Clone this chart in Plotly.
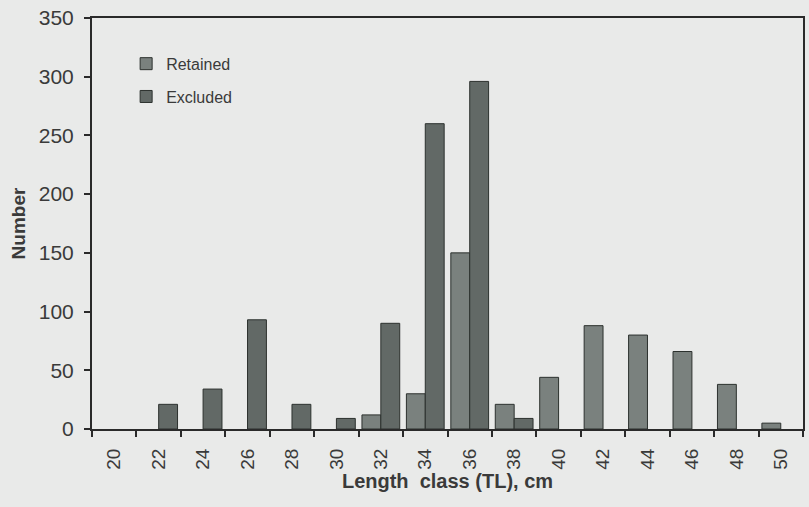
import plotly.graph_objects as go

categories = ["20", "22", "24", "26", "28", "30", "32", "34", "36", "38",
              "40", "42", "44", "46", "48", "50"]
retained = [None, None, None, None, None, None, 12, 30, 150, 21, 44, 88, 80, 66, 38, 5]
excluded = [None, 21, 34, 93, 21, 9, 90, 260, 296, 9, None, None, None, None, None, None]
y_ticks = [0, 50, 100, 150, 200, 250, 300, 350]

font_family = "Liberation Sans, Arial, sans-serif"
bg = "#e9eae9"
edge = "#2c312e"
txt = "#3a3a3a"

fig = go.Figure()
fig.add_trace(go.Bar(
    name="Retained", x=categories, y=retained, legendgroup="r",
    marker=dict(color="#7a817e", line=dict(color=edge, width=1)),
))
fig.add_trace(go.Bar(
    name="Excluded", x=categories, y=excluded, legendgroup="e",
    marker=dict(color="#626966", line=dict(color=edge, width=1)),
))

fig.update_layout(
    width=809, height=507, autosize=False,
    margin=dict(l=92, r=4, t=18, b=78),
    paper_bgcolor=bg, plot_bgcolor=bg,
    barmode="group", bargap=0.15, bargroupgap=0,
    font=dict(family=font_family, size=16, color=txt),
    showlegend=True,
    legend=dict(
        x=0.048, y=0.93, xanchor="left", yanchor="top",
        bgcolor="rgba(0,0,0,0)", font=dict(size=16, color=txt),
        itemwidth=30, tracegroupgap=9,
    ),
    xaxis=dict(
        type="category", tickson="boundaries", ticks="outside",
        ticklen=6, tickwidth=2, tickcolor="#2a2a2a",
        tickangle=-90, tickfont=dict(size=19, color=txt),
        ticklabelstandoff=10,
        showline=True, linecolor="#2a2a2a", linewidth=2, mirror=True,
        showgrid=False, zeroline=False,
        title=dict(text="<b>Length  class (TL), cm</b>",
                   font=dict(size=20, color=txt), standoff=5),
    ),
    yaxis=dict(
        range=[0, 350], tickvals=y_ticks, ticks="outside",
        ticklen=6, tickwidth=2, tickcolor="#2a2a2a",
        tickfont=dict(size=21, color=txt),
        ticklabelstandoff=6,
        showline=True, linecolor="#2a2a2a", linewidth=2, mirror=True,
        showgrid=False, zeroline=False,
        title=dict(text="<b>Number</b>",
                   font=dict(size=19, color=txt), standoff=8),
    ),
)

fig.write_html(
    "out.html",
    config={"displayModeBar": False},
    post_script="document.body.style.margin='0px';document.body.style.background='%s';" % bg,
)
